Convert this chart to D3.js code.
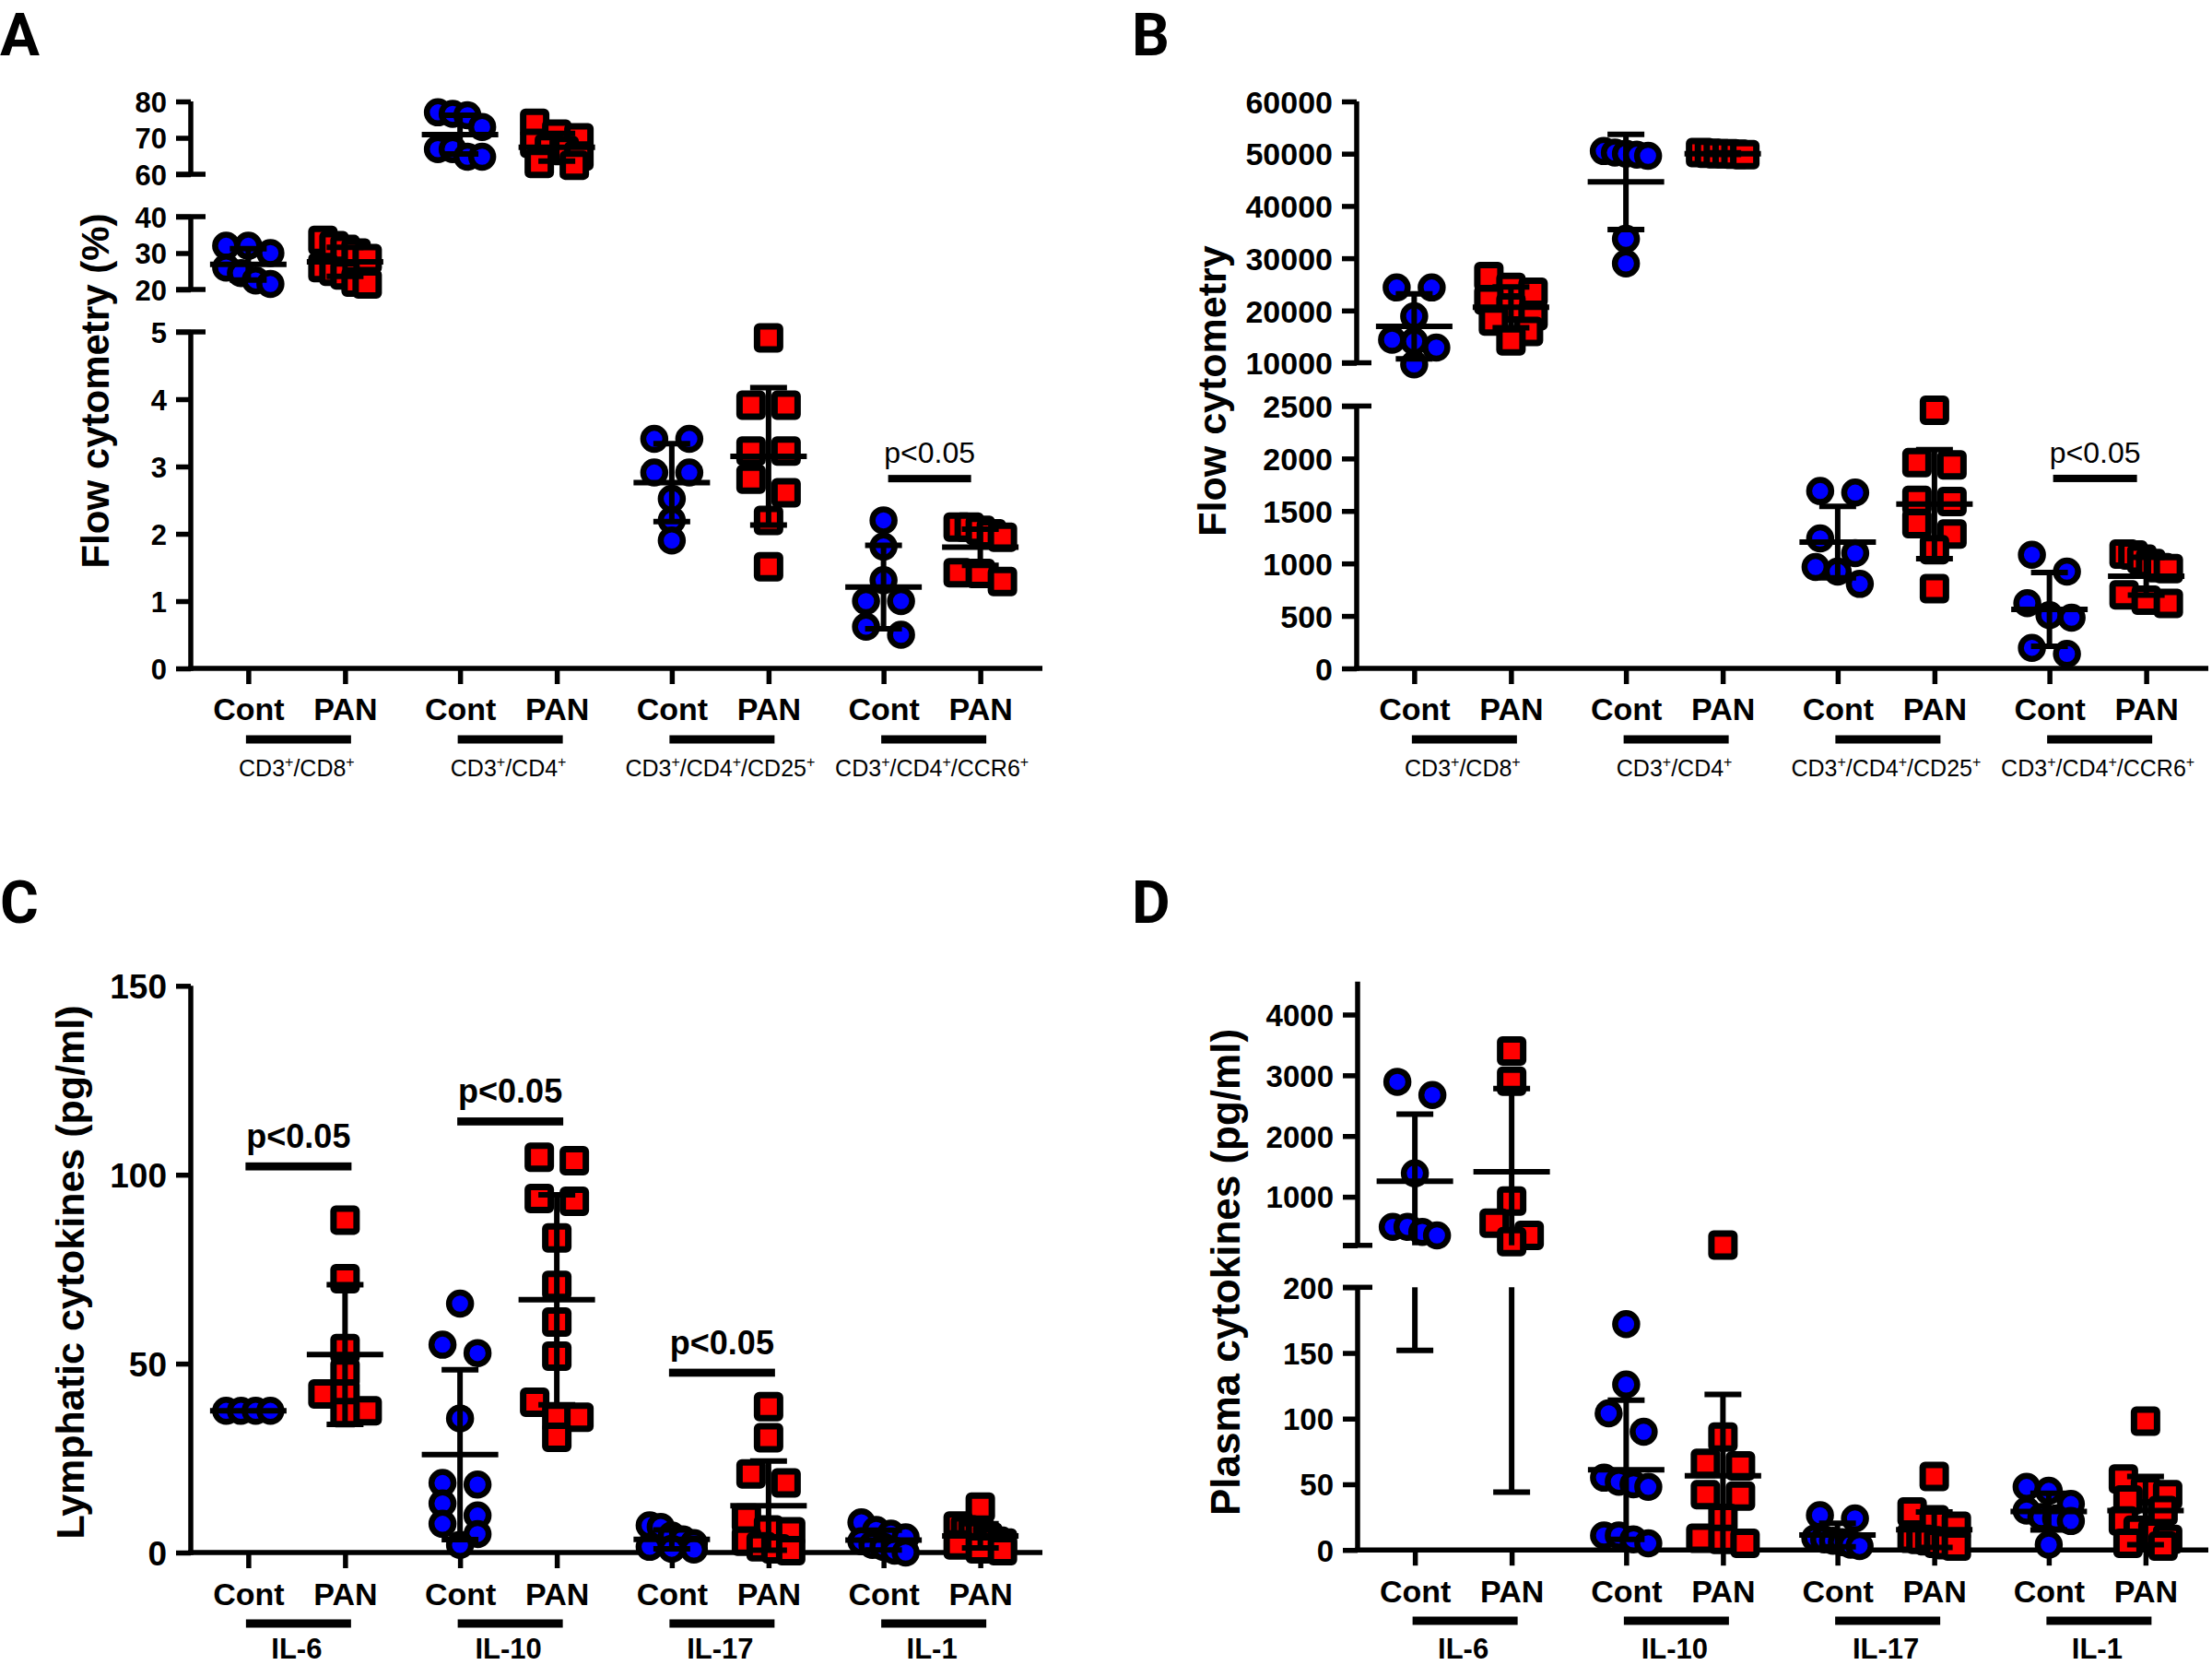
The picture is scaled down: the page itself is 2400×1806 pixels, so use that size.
<!DOCTYPE html>
<html><head><meta charset="utf-8">
<script src="https://cdn.jsdelivr.net/npm/d3@7"></script>
<style>html,body{margin:0;padding:0;background:#fff}svg{display:block}</style>
</head><body>
<script>
// ---------------- DATA ----------------
const conditions = ["Cont", "PAN"];
const flowGroups = ["CD3+/CD8+", "CD3+/CD4+", "CD3+/CD4+/CD25+", "CD3+/CD4+/CCR6+"];
const cytokineGroups = ["IL-6", "IL-10", "IL-17", "IL-1"];

// Panel A: Flow cytometry (%)
const pctSegments = [[0, 5], [20, 40], [60, 80]];
const pctTicks = [[0, 1, 2, 3, 4, 5], [20, 30, 40], [60, 70, 80]];
const pctContValues = [
  [32, 32, 30, 26, 24.5, 22.5, 21.5],
  [77, 76.6, 76.2, 73, 66.9, 66.9, 64.8, 64.8],
  [3.41, 3.41, 2.91, 2.91, 2.52, 2.2, 1.9],
  [2.2, 1.81, 1.31, 1.0, 1.0, 0.62, 0.5]
];
const pctPanValues = [
  [33.5, 32, 31, 30, 28.5, 26, 25, 24, 22, 21.5],
  [74, 71, 70, 68.5, 67, 66.5, 65, 63, 62.5],
  [4.91, 3.91, 3.91, 3.23, 3.23, 2.81, 2.61, 2.2, 1.51],
  [2.1, 2.1, 2.05, 2.0, 1.95, 1.42, 1.41, 1.29]
];
const pctContMean = [26.9, 70.9, 2.76, 1.21];
const pctContSD = [4.3, 5.3, 0.58, 0.62];
const pctPanMean = [27.6, 67.4, 3.15, 1.8];
const pctPanSD = [4.0, 3.8, 1.02, 0.27];
const pctSig = [null, null, null, "p<0.05"];
const pctSigLevel = [null, null, null, 2.82];

// Panel B: Flow cytometry (counts)
const cntSegments = [[0, 2500], [10000, 60000]];
const cntTicks = [[0, 500, 1000, 1500, 2000, 2500], [10000, 20000, 30000, 40000, 50000, 60000]];
const cntContValues = [
  [24400, 24400, 18900, 14400, 14100, 12900, 9700],
  [50500, 50200, 50000, 49800, 49600, 33700, 29000],
  [1690, 1675, 1239, 1098, 966, 922, 805],
  [1083, 922, 621, 507, 483, 196, 138]
];
const cntPanValues = [
  [26500, 24400, 23500, 22000, 20500, 19000, 18000, 16000, 14200],
  [50200, 50100, 50000, 50000, 49900, 49800],
  [2460, 1960, 1940, 1600, 1590, 1380, 1280, 1130, 760],
  [1090, 1080, 1040, 1000, 960, 950, 700, 650, 620]
];
const cntContMean = [16970, 44600, 1203, 562];
const cntContSD = [6200, 9100, 340, 352];
const cntPanMean = [20620, 50000, 1565, 878];
const cntPanSD = [3900, 150, 520, 180];
const cntSig = [null, null, null, "p<0.05"];
const cntSigLevel = [null, null, null, 1810];

// Panel C: Lymphatic cytokines (pg/ml)
const lymSegments = [[0, 150]];
const lymTicks = [[0, 50, 100, 150]];
const lymContValues = [
  [37.5, 37.5, 37.5, 37.5],
  [65.9, 55, 52.8, 35.5, 18.4, 18, 13, 9.8, 7.6, 4.9, 2],
  [7.2, 6.8, 4.5, 3.5, 2.5, 1.5, 1, 0.8],
  [8, 6, 5, 4, 3, 2, 1.5, 0.5, 0]
];
const lymPanValues = [
  [88, 72.5, 54, 47.5, 42, 42, 37.5, 37],
  [104.6, 103.7, 93.7, 93, 83.3, 70.7, 61, 52, 39.8, 35.8, 35.8, 30.5],
  [38.6, 30.4, 20.8, 18.4, 9.1, 6, 5.5, 3, 1.5, 1, 0.5],
  [12, 7, 6, 5.5, 5, 4, 3, 2.5, 2, 1, 0.5]
];
const lymContMean = [37.5, 25.9, 3.5, 3.3];
const lymContSD = [0, 22.5, 2.5, 2.6];
const lymPanMean = [52.4, 66.9, 12.4, 4.4];
const lymPanSD = [18.5, 27.8, 11.8, 3.2];
const lymSig = ["p<0.05", "p<0.05", "p<0.05", null];
const lymSigLevel = [102.2, 114.1, 47.6, null];

// Panel D: Plasma cytokines (pg/ml)
const plaSegments = [[0, 200], [200, 4543]];
const plaTicks = [[0, 50, 100, 150, 200], [200, 1000, 2000, 3000, 4000]];
const plaContValues = [
  [2893, 2675, 1385, 505, 505, 420, 364],
  [172, 126, 104, 90, 55, 52, 50, 48, 11, 11, 8, 5],
  [26.5, 24, 9, 8, 7, 6, 4, 3],
  [48, 45, 35, 30, 25, 24, 22, 4]
];
const plaPanValues = [
  [3399, 2903, 930, 566, 364, 262],
  [205, 86, 66, 64, 42, 41, 24, 9, 8, 5],
  [56, 29, 23, 18, 9, 8, 7, 5, 4, 3],
  [98, 54, 45, 42, 38, 30, 22, 15, 12, 8, 5, 3]
];
const plaContMean = [1257, 61, 11.4, 29.2];
const plaContSD = [1105, 53, 9, 14];
const plaPanMean = [1412, 56.5, 15.4, 30];
const plaPanSD = [1368, 62, 13.5, 26];
const plaSig = [null, null, null, null];
const plaSigLevel = [null, null, null, null];

// ---------------- DRAWING ----------------
const FONT = "'Liberation Sans', Arial, Helvetica, sans-serif";
const BLUE = "#0000ff", RED = "#ff0000";
const SW = 5.5;

const svg = d3.select("body").append("svg")
  .attr("width", 2400).attr("height", 1806)
  .style("background", "#fff");
svg.append("rect").attr("width", 2400).attr("height", 1806).attr("fill", "#fff");

// scatter-dot layout: points of similar value are spread symmetrically side by side
function jitter(vals, yf) {
  const pts = vals.map(v => ({ v, y: yf(v) })).sort((a, b) => a.y - b.y);
  const out = [];
  let cl = [];
  const flush = () => {
    const n = cl.length;
    const sp = n > 1 ? Math.min(38, 48 / (n - 1)) : 0;
    cl.forEach((p, i) => out.push({ v: p.v, y: p.y, dx: (i - (n - 1) / 2) * sp }));
    cl = [];
  };
  for (const p of pts) {
    if (cl.length && p.y - cl[0].y > 20) flush();
    cl.push(p);
  }
  flush();
  return out;
}

function labelWithSup(sel, str, size) {
  const parts = str.split("+");
  let raised = false;
  parts.forEach((part, i) => {
    if (part.length) {
      sel.append("tspan").attr("dy", raised ? size * 0.42 : 0).text(part);
      raised = false;
    }
    if (i < parts.length - 1) {
      sel.append("tspan").attr("dy", raised ? 0 : -size * 0.42)
        .attr("font-size", size * 0.64).text("+");
      raised = true;
    }
  });
}

function drawPanel(p) {
  const g = svg.append("g");
  const segs = p.segDomains.map((d, i) => ({
    d0: d[0], d1: d[1],
    s: d3.scaleLinear().domain(d).range(p.segRanges[i])
  }));
  const segOf = v => segs.find(s => v >= s.d0 && v <= s.d1);
  const yOf = v => {
    const s = segOf(v) || (v < segs[0].d0 ? segs[0] : segs[segs.length - 1]);
    return s.s(v);
  };
  const xBand = d3.scaleBand().domain(p.groups).range([p.axisX, p.axisX + p.bandWidth]).padding(0);
  const xCond = d3.scalePoint().domain(conditions).range([-52.5, 52.5]);
  const gc = gi => xBand(p.groups[gi]) + xBand.bandwidth() / 2;
  const xOf = (gi, c) => gc(gi) + xCond(c);

  // panel letter
  svg.append("text").attr("x", p.letterX).attr("y", p.letterY)
    .attr("font-family", "Roboto, 'Open Sans', sans-serif").attr("font-weight", 700)
    .attr("font-size", 64).attr("fill", "#000").text(p.letter);

  // y axis segments
  segs.forEach((s, i) => {
    const ax = g.append("g").attr("transform", `translate(${p.axisX},0)`)
      .call(d3.axisLeft(s.s).tickValues(p.ticks[i]).tickSize(16).tickSizeOuter(0).tickPadding(10)
        .tickFormat(t => (i > 0 && t === s.d0 && segs[i - 1].d1 === t) ? "" : d3.format("d")(t)));
    ax.select(".domain").attr("stroke", "#000").attr("stroke-width", SW)
      .attr("d", `M0,${s.s.range()[0] + (i === 0 ? SW / 2 : 0)}V${s.s.range()[1]}`);
    ax.selectAll(".tick line").attr("stroke", "#000").attr("stroke-width", SW);
    ax.selectAll(".tick text").attr("font-family", FONT).attr("font-weight", "bold")
      .attr("font-size", p.tickFont).attr("fill", "#000").attr("dy", "0.36em");
    const ends = [];
    if (i > 0) ends.push(s.d0);
    if (i < segs.length - 1) ends.push(s.d1);
    ends.forEach(v => {
      g.append("line").attr("x1", p.axisX - 16).attr("x2", p.axisX + 16)
        .attr("y1", s.s(v)).attr("y2", s.s(v)).attr("stroke", "#000").attr("stroke-width", SW);
    });
  });

  // x axis
  g.append("line").attr("x1", p.axisX - SW / 2).attr("x2", p.axisRight)
    .attr("y1", p.xAxisY).attr("y2", p.xAxisY).attr("stroke", "#000").attr("stroke-width", SW);
  const catKeys = [], catXs = [];
  p.groups.forEach((gr, gi) => conditions.forEach(c => { catKeys.push(gi + "|" + c); catXs.push(xOf(gi, c)); }));
  const xCat = d3.scaleOrdinal().domain(catKeys).range(catXs);
  const xa = g.append("g").attr("transform", `translate(0,${p.xAxisY})`)
    .call(d3.axisBottom(xCat).tickValues(catKeys).tickSize(17).tickSizeOuter(0).tickPadding(10)
      .tickFormat(k => k.split("|")[1]));
  xa.select(".domain").remove();
  xa.selectAll(".tick line").attr("stroke", "#000").attr("stroke-width", SW);
  xa.selectAll(".tick text").attr("font-family", FONT).attr("font-weight", "bold")
    .attr("font-size", 34).attr("fill", "#000").attr("dy", null)
    .attr("y", p.catBaseline - p.xAxisY);

  // group bars and labels
  p.groups.forEach((gr, gi) => {
    const cx = gc(gi) + 2;
    g.append("rect").attr("x", cx - 57).attr("width", 114)
      .attr("y", p.groupBarY - 4.5).attr("height", 9).attr("fill", "#000");
    const t = g.append("text").attr("x", gc(gi)).attr("y", p.groupLabelY)
      .attr("text-anchor", "middle").attr("font-family", FONT)
      .attr("font-weight", p.groupLabelBold ? "bold" : "normal")
      .attr("font-size", p.groupLabelFont).attr("fill", "#000");
    if (gr.includes("+")) labelWithSup(t, gr, p.groupLabelFont);
    else t.text(gr);
  });

  // points
  const pg = g.append("g");
  p.groups.forEach((gr, gi) => {
    conditions.forEach(c => {
      const vals = (c === "Cont" ? p.cont : p.pan)[gi];
      const pts = jitter(vals, yOf);
      const x0 = xOf(gi, c);
      pts.forEach(pt => {
        if (c === "Cont") {
          pg.append("circle").attr("cx", x0 + pt.dx).attr("cy", pt.y).attr("r", 12)
            .attr("fill", BLUE).attr("stroke", "#000").attr("stroke-width", 6.5);
        } else {
          pg.append("rect").attr("x", x0 + pt.dx - 12.5).attr("y", pt.y - 12.5)
            .attr("width", 25).attr("height", 25).attr("rx", 2.5)
            .attr("fill", RED).attr("stroke", "#000").attr("stroke-width", 7);
        }
      });
    });
  });

  // mean and SD bars
  const eg = g.append("g").attr("stroke", "#000").attr("stroke-width", 6);
  p.groups.forEach((gr, gi) => {
    conditions.forEach(c => {
      const m = (c === "Cont" ? p.contMean : p.panMean)[gi];
      const sd = (c === "Cont" ? p.contSD : p.panSD)[gi];
      const x0 = xOf(gi, c);
      const lo = m - sd, hi = m + sd;
      segs.forEach(s => {
        const a = Math.max(lo, s.d0), b = Math.min(hi, s.d1);
        if (b > a) eg.append("line").attr("x1", x0).attr("x2", x0).attr("y1", s.s(a)).attr("y2", s.s(b));
      });
      [lo, hi].forEach(v => {
        if (segOf(v) && sd > 0) eg.append("line").attr("x1", x0 - 20).attr("x2", x0 + 20)
          .attr("y1", yOf(v)).attr("y2", yOf(v));
      });
      eg.append("line").attr("x1", x0 - 41.5).attr("x2", x0 + 41.5)
        .attr("y1", yOf(m)).attr("y2", yOf(m));
    });
  });

  // significance
  p.sig.forEach((lab, gi) => {
    if (!lab) return;
    const y = yOf(p.sigLevel[gi]);
    const x1 = xOf(gi, "Cont") + p.sigX0, x2 = xOf(gi, "PAN") + p.sigX1;
    g.append("rect").attr("x", x1).attr("width", x2 - x1).attr("y", y - p.sigThick / 2)
      .attr("height", p.sigThick).attr("fill", "#000");
    g.append("text").attr("x", (x1 + x2) / 2).attr("y", y - p.sigTextGap)
      .attr("text-anchor", "middle").attr("font-family", FONT)
      .attr("font-weight", p.sigBold ? "bold" : "normal").attr("font-size", p.sigFont)
      .attr("fill", "#000").text(lab);
  });

  // y title
  svg.append("text").attr("transform", `translate(${p.titleX},${p.titleY}) rotate(-90)`)
    .attr("text-anchor", "middle").attr("font-family", FONT).attr("font-weight", "bold")
    .attr("font-size", p.titleFont).attr("fill", "#000").text(p.title);
}

drawPanel({
  letter: "A", letterX: 0, letterY: 60,
  groups: flowGroups, cont: pctContValues, pan: pctPanValues,
  contMean: pctContMean, contSD: pctContSD, panMean: pctPanMean, panSD: pctPanSD,
  segDomains: pctSegments, ticks: pctTicks,
  segRanges: [[725, 360], [314, 235], [189, 110]],
  axisX: 207, axisRight: 1131, bandWidth: 919, xAxisY: 725,
  tickFont: 31, catBaseline: 781, groupBarY: 802, groupLabelY: 842,
  groupLabelFont: 25, groupLabelBold: false,
  sig: pctSig, sigLevel: pctSigLevel, sigX0: 5, sigX1: -10, sigThick: 8, sigTextGap: 17, sigFont: 32, sigBold: false,
  title: "Flow cytometry (%)", titleX: 118, titleY: 424, titleFont: 42
});

drawPanel({
  letter: "B", letterX: 1228, letterY: 60,
  groups: flowGroups, cont: cntContValues, pan: cntPanValues,
  contMean: cntContMean, contSD: cntContSD, panMean: cntPanMean, panSD: cntPanSD,
  segDomains: cntSegments, ticks: cntTicks,
  segRanges: [[725, 440.4], [393.5, 110]],
  axisX: 1472, axisRight: 2396, bandWidth: 919, xAxisY: 725,
  tickFont: 34, catBaseline: 781, groupBarY: 802, groupLabelY: 842,
  groupLabelFont: 25, groupLabelBold: false,
  sig: cntSig, sigLevel: cntSigLevel, sigX0: 4, sigX1: -10, sigThick: 8, sigTextGap: 17, sigFont: 32, sigBold: false,
  title: "Flow cytometry", titleX: 1330, titleY: 424, titleFont: 43
});

drawPanel({
  letter: "C", letterX: 0, letterY: 1001,
  groups: cytokineGroups, cont: lymContValues, pan: lymPanValues,
  contMean: lymContMean, contSD: lymContSD, panMean: lymPanMean, panSD: lymPanSD,
  segDomains: lymSegments, ticks: lymTicks,
  segRanges: [[1684, 1069.3]],
  axisX: 207, axisRight: 1131, bandWidth: 919, xAxisY: 1684,
  tickFont: 37, catBaseline: 1741, groupBarY: 1761, groupLabelY: 1799,
  groupLabelFont: 31, groupLabelBold: true,
  sig: lymSig, sigLevel: lymSigLevel, sigX0: -3, sigX1: 7, sigThick: 8.7, sigTextGap: 20, sigFont: 36, sigBold: true,
  title: "Lymphatic cytokines (pg/ml)", titleX: 91, titleY: 1380, titleFont: 43
});

drawPanel({
  letter: "D", letterX: 1228, letterY: 1001,
  groups: cytokineGroups, cont: plaContValues, pan: plaPanValues,
  contMean: plaContMean, contSD: plaContSD, panMean: plaPanMean, panSD: plaPanSD,
  segDomains: plaSegments, ticks: plaTicks,
  segRanges: [[1681.2, 1396.3], [1350.8, 1064.7]],
  axisX: 1473, axisRight: 2396, bandWidth: 917, xAxisY: 1681.2,
  tickFont: 33, catBaseline: 1738, groupBarY: 1758, groupLabelY: 1799,
  groupLabelFont: 31, groupLabelBold: true,
  sig: plaSig, sigLevel: plaSigLevel, sigX0: -3, sigX1: 7, sigThick: 8.7, sigTextGap: 20, sigFont: 36, sigBold: true,
  title: "Plasma cytokines (pg/ml)", titleX: 1345, titleY: 1380, titleFont: 44
});
</script>
</body></html>
